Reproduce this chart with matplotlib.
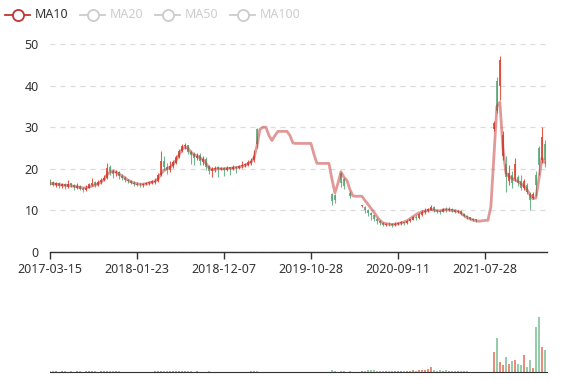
import numpy as np
import matplotlib
matplotlib.use("Agg")
import matplotlib.pyplot as plt
from matplotlib.lines import Line2D

plt.rcParams['font.family'] = ['Noto Sans', 'DejaVu Sans']

# tick labels shown on the category axis (every 29th candle)
date_labels = ["2017-03-15", "2018-01-23", "2018-12-07", "2019-10-28", "2020-09-11", "2021-07-28"]
label_step = 29

# candles: open / close / low / high (None = no candle drawn)
opens = [17.2, 16.8, 16.1, 16.6, 15.8, 16.2, 15.7, 16.5, 16.1, 15.5,
         15.9, 15.1, 14.9, 15.5, 16.1, 16.7, 16.0, 16.9, 17.3, 17.9,
         20.3, 19.4, 18.9, 19.2, 18.1, 17.8, 17.2, 16.9, 16.6, 16.3,
         16.1, 16.0, 16.3, 16.5, 16.7, 16.9, 17.1, 18.6, 21.9, 20.4,
         19.7, 20.7, 21.5, 22.9, 24.3, 25.5, 25.6, 24.1, 23.5, 22.5,
         23.2, 21.7, 22.3, 20.6, 19.4, 19.9, 20.3, 20.0, 20.2, 19.8,
         20.3, 20.0, 20.4, 20.2, 20.6, 20.8, 21.0, 21.5, 22.0, 29.5,
         None, None, None, None, None, None, None, None, None, None,
         None, None, None, None, None, None, None, None, None, None,
         None, None, None, None, 14.0, 13.6, None, 19.0, 17.4, None,
         14.2, None, None, None, 11.0, 10.8, 10.0, 9.4, 8.8, 8.0,
         7.4, 7.0, 6.6, 6.8, 6.7, 6.5, 6.8, 6.9, 7.2, 7.0,
         7.4, 7.8, 8.4, 8.2, 9.0, 9.7, 9.8, 10.2, 10.8, 10.1,
         9.8, 9.7, 10.3, 10.0, 10.4, 10.1, 9.7, 9.9, 9.2, 8.6,
         8.3, 8.0, 7.8, None, None, None, None, None, 29.5, 41.0,
         40.0, 23.0, 21.0, 17.0, 18.5, 17.5, 18.0, 17.0, 15.5, 16.0,
         14.0, 13.0, 18.5, 25.0, 22.0, 26.0]
closes = [16.8, 16.2, 16.5, 15.9, 16.3, 15.8, 16.4, 16.0, 15.6, 15.9,
          15.2, 15.0, 15.4, 16.2, 16.6, 16.0, 16.8, 17.2, 17.8, 20.2,
          19.5, 18.8, 19.3, 18.2, 17.9, 17.3, 17.0, 16.7, 16.4, 16.2,
          16.0, 16.3, 16.6, 16.7, 16.9, 17.0, 18.5, 21.8, 20.5, 19.8,
          20.6, 21.5, 22.8, 24.2, 25.5, 25.6, 24.0, 23.4, 22.6, 23.0,
          21.8, 22.4, 20.5, 19.5, 19.8, 20.2, 20.0, 20.2, 19.8, 20.2,
          20.0, 20.4, 20.2, 20.6, 20.8, 21.0, 21.6, 21.9, 23.0, 26.0,
          None, None, None, None, None, None, None, None, None, None,
          None, None, None, None, None, None, None, None, None, None,
          None, None, None, None, 12.2, 12.6, None, 16.5, 15.8, None,
          13.4, None, None, None, 11.2, 10.0, 9.4, 8.8, 8.0, 7.4,
          7.0, 6.6, 6.8, 6.7, 6.5, 6.8, 6.9, 7.1, 7.0, 7.4,
          7.8, 8.4, 8.2, 9.0, 9.6, 9.8, 10.2, 10.8, 10.1, 9.8,
          9.7, 10.3, 10.0, 10.4, 10.1, 9.7, 9.9, 9.2, 8.6, 8.3,
          8.0, 7.8, 7.6, None, None, None, None, None, 31.0, 34.0,
          46.0, 28.0, 18.0, 19.0, 16.5, 21.0, 16.5, 15.5, 17.0, 14.5,
          12.5, 14.0, 16.0, 21.0, 27.5, 22.0]
lows = [16.0, 15.8, 15.7, 15.5, 15.4, 15.2, 15.5, 15.6, 15.0, 15.2,
        14.8, 14.5, 14.6, 15.3, 15.8, 15.6, 15.8, 16.4, 17.0, 17.6,
        18.6, 17.8, 18.2, 17.5, 17.2, 16.8, 16.5, 16.3, 15.9, 15.8,
        15.6, 15.7, 16.0, 16.2, 16.4, 16.3, 16.8, 18.3, 19.6, 18.8,
        19.2, 20.2, 21.2, 22.5, 24.0, 24.8, 23.5, 21.2, 21.0, 22.0,
        20.8, 21.0, 19.8, 18.8, 18.0, 19.2, 18.0, 19.6, 18.2, 19.5,
        18.5, 19.7, 19.0, 20.0, 20.3, 20.4, 20.6, 21.0, 21.6, 25.0,
        None, None, None, None, None, None, None, None, None, None,
        None, None, None, None, None, None, None, None, None, None,
        None, None, None, None, 11.3, 11.8, None, 15.6, 15.2, None,
        13.0, None, None, None, 10.8, 9.4, 8.6, 7.8, 7.4, 6.8,
        6.5, 6.2, 6.3, 6.3, 6.1, 6.3, 6.4, 6.6, 6.5, 6.8,
        7.1, 7.6, 7.8, 8.0, 8.7, 9.2, 9.5, 10.0, 9.6, 9.3,
        9.2, 9.5, 9.7, 9.8, 9.6, 9.4, 9.3, 8.8, 8.3, 7.9,
        7.6, 7.5, 7.3, None, None, None, None, None, 29.0, 33.5,
        36.5, 22.0, 14.5, 16.0, 15.5, 17.0, 15.8, 15.0, 14.8, 14.0,
        10.0, 12.8, 13.5, 18.5, 21.5, 20.5]
highs = [17.6, 17.0, 16.9, 16.8, 16.6, 16.5, 17.3, 16.7, 16.4, 16.6,
         16.1, 15.6, 16.0, 16.6, 17.8, 17.0, 17.2, 17.8, 18.6, 21.4,
         20.8, 20.0, 19.8, 19.5, 18.7, 18.2, 17.6, 17.3, 17.0, 16.8,
         16.5, 16.7, 16.9, 17.0, 17.2, 17.8, 19.0, 24.2, 23.0, 21.3,
         21.8, 22.0, 23.3, 24.8, 26.0, 26.1, 25.8, 24.5, 24.0, 23.8,
         23.8, 23.0, 22.8, 20.8, 20.5, 20.6, 20.6, 20.5, 20.4, 20.6,
         20.5, 20.8, 20.7, 21.0, 21.8, 21.4, 22.0, 22.5, 24.4, 29.8,
         None, None, None, None, None, None, None, None, None, None,
         None, None, None, None, None, None, None, None, None, None,
         None, None, None, None, 14.2, 14.0, None, 19.2, 17.8, None,
         14.6, None, None, None, 11.4, 11.0, 10.3, 9.6, 9.0, 8.2,
         7.6, 7.2, 7.0, 7.1, 6.9, 7.2, 7.1, 7.4, 7.3, 7.8,
         8.0, 8.6, 8.8, 9.3, 10.0, 10.5, 10.6, 11.2, 11.0, 10.4,
         10.2, 10.6, 10.8, 10.7, 10.6, 10.3, 10.2, 10.0, 9.4, 8.8,
         8.5, 8.2, 8.0, None, None, None, None, None, 31.5, 42.0,
         47.0, 29.0, 23.0, 21.0, 19.5, 22.6, 18.5, 18.5, 17.5, 16.5,
         14.5, 14.5, 19.5, 25.5, 30.0, 27.0]

# MA10 line
ma10 = [16.5, 16.4, 16.3, 16.2, 16.1, 16.0, 16.0, 15.9, 15.8, 15.7,
        15.5, 15.4, 15.4, 15.6, 15.9, 16.1, 16.4, 16.8, 17.4, 18.6,
        19.2, 19.4, 19.2, 18.8, 18.3, 17.8, 17.3, 16.9, 16.6, 16.4,
        16.3, 16.3, 16.4, 16.6, 16.8, 17.0, 17.5, 18.8, 19.6, 20.0,
        20.4, 21.0, 22.0, 23.3, 24.6, 25.3, 24.9, 24.0, 23.4, 23.1,
        22.6, 22.2, 21.3, 20.3, 19.8, 19.9, 20.0, 20.0, 20.0, 20.1,
        20.1, 20.2, 20.3, 20.4, 20.6, 20.8, 21.2, 21.6, 22.6, 25.5,
        29.5, 30.0, 30.0, 28.0, 26.8, 28.0, 29.0, 29.0, 29.0, 29.0,
        28.0, 26.2, 26.1, 26.1, 26.1, 26.1, 26.1, 26.1, 23.5, 21.3,
        21.3, 21.3, 21.3, 21.3, 17.5, 14.2, 16.5, 19.3, 18.0, 17.2,
        15.0, 13.5, 13.4, 13.4, 13.4, 12.4, 11.5, 10.5, 9.6, 8.5,
        7.6, 7.0, 6.8, 6.7, 6.6, 6.7, 6.8, 7.0, 7.2, 7.5,
        8.0, 8.5, 9.0, 9.4, 9.6, 9.8, 10.0, 10.2, 10.1, 9.9,
        9.9, 10.1, 10.2, 10.1, 10.0, 9.9, 9.8, 9.4, 8.8, 8.3,
        8.0, 7.7, 7.5, 7.4, 7.5, 7.6, 7.6, 11.0, 23.0, 35.0,
        36.0, 25.0, 19.0, 18.2, 17.7, 17.3, 17.0, 16.4, 15.8, 15.0,
        13.8, 12.8, 13.0, 17.5, 22.5, 21.5]

volumes = [1.5, 1.2, 1.0, 0.8, 1.0, 1.2, 0.9, 1.0, 0.8, 1.1,
           1.4, 0.9, 1.0, 1.2, 2.0, 1.0, 0.9, 1.3, 1.5, 2.5,
           2.0, 1.6, 1.2, 1.0, 0.8, 0.9, 0.7, 0.8, 0.6, 0.7,
           0.6, 0.7, 0.8, 0.7, 0.9, 1.0, 1.4, 2.6, 1.8, 1.2,
           1.0, 1.2, 1.4, 1.8, 1.6, 1.3, 1.2, 1.0, 0.9, 1.0,
           0.8, 0.9, 0.8, 1.0, 0.7, 0.6, 0.7, 0.6, 0.6, 0.5,
           0.6, 0.5, 0.6, 0.7, 0.8, 0.7, 0.9, 1.0, 1.6, 1.8,
           0, 0, 0, 0, 0, 0, 0, 0, 0, 0,
           0, 0, 0, 0, 0, 0, 0, 0, 0, 0,
           0, 0, 0, 0, 3.5, 2.5, 0, 2.2, 1.5, 0,
           1.2, 0, 0, 0, 1.0, 2.5, 4.5, 3.2, 2.8, 2.0,
           1.5, 1.8, 1.2, 1.0, 1.3, 1.1, 1.4, 1.8, 1.2, 2.0,
           2.4, 3.0, 2.2, 2.8, 3.5, 4.0, 5.0, 8.5, 3.5, 2.5,
           3.8, 2.6, 3.0, 2.2, 2.0, 1.6, 1.8, 1.5, 1.2, 1.0,
           0.9, 0.8, 0.7, 0, 0, 0, 0, 0, 36, 62,
           18, 12, 28, 15, 20, 22, 14, 12, 31, 10,
           22, 8, 82, 100, 46, 40]

o = np.array(opens, dtype=float)
c = np.array(closes, dtype=float)
lo = np.array(lows, dtype=float)
hi = np.array(highs, dtype=float)
ma = np.array(ma10, dtype=float)
vol = np.array(volumes, dtype=float)
idx = np.arange(len(c))

up_col = '#e04b3a'
down_col = '#5aa878'
up = c >= o
valid = ~np.isnan(c)

W, H = 577, 380
fig = plt.figure(figsize=(W / 100, H / 100), dpi=100)

ax = fig.add_axes([50 / W, (H - 252) / H, 497 / W, 208 / H])
ax.set_xlim(0, 165.7)
ax.set_ylim(0, 50)

# candles
for m, col, a in [(valid & ~up, down_col, 0.85), (valid & up, up_col, 0.9)]:
    ax.vlines(idx[m], lo[m], hi[m], color=col, lw=0.8, alpha=a, zorder=2)
    ax.bar(idx[m], np.abs(c[m] - o[m]) + 0.05, bottom=np.minimum(o[m], c[m]),
           width=0.55, color=col, alpha=a, linewidth=0, zorder=2)

ax.plot(idx, ma, color='#c23531', alpha=0.5, lw=2.0, solid_capstyle='round',
        solid_joinstyle='round', zorder=3)

ax.set_yticks([0, 10, 20, 30, 40, 50])
ax.grid(axis='y', color='#dcdcdc', linestyle=(0, (4, 4)), lw=0.9)
ax.set_axisbelow(True)
for s in ['top', 'right', 'left']:
    ax.spines[s].set_visible(False)
ax.spines['bottom'].set_color('#333333')
ax.spines['bottom'].set_linewidth(1.0)
ax.tick_params(axis='y', length=0, pad=8, labelsize=9, labelcolor='#333333')
tick_pos = [i * label_step for i in range(len(date_labels))]
ax.set_xticks(tick_pos)
ax.set_xticklabels(date_labels)
ax.tick_params(axis='x', length=5, width=1.0, color='#333333', pad=3,
               labelsize=9, labelcolor='#333333')

# volume panel
axv = fig.add_axes([50 / W, (H - 372) / H, 497 / W, 55 / H])
axv.set_xlim(0, 165.7)
axv.set_ylim(0, 100)
vcol = np.where(up | ~valid, '#e8806c', '#8cc7a2')
axv.bar(idx, vol, width=0.6, color=vcol, linewidth=0, alpha=0.9)
for s in ['top', 'right', 'left']:
    axv.spines[s].set_visible(False)
axv.spines['bottom'].set_color('#333333')
axv.set_xticks([])
axv.set_yticks([])

# legend drawn by hand
legend_items = ["MA10", "MA20", "MA50", "MA100"]
legend_x = [5, 80, 155, 230]
for k, (name, lx) in enumerate(zip(legend_items, legend_x)):
    col = '#c23531' if k == 0 else '#cccccc'
    fy = (H - 15) / H
    fig.add_artist(Line2D([lx / W, (lx + 25) / W], [fy, fy], color=col, lw=1.3))
    fig.add_artist(Line2D([(lx + 12.5) / W], [fy], marker='o', markersize=8,
                          markerfacecolor='white', markeredgecolor=col,
                          markeredgewidth=1.3))
    fig.text((lx + 30) / W, fy, name, fontsize=9, va='center', ha='left',
             color='#333333' if k == 0 else '#cccccc')

fig.savefig("out.png", dpi=100)
